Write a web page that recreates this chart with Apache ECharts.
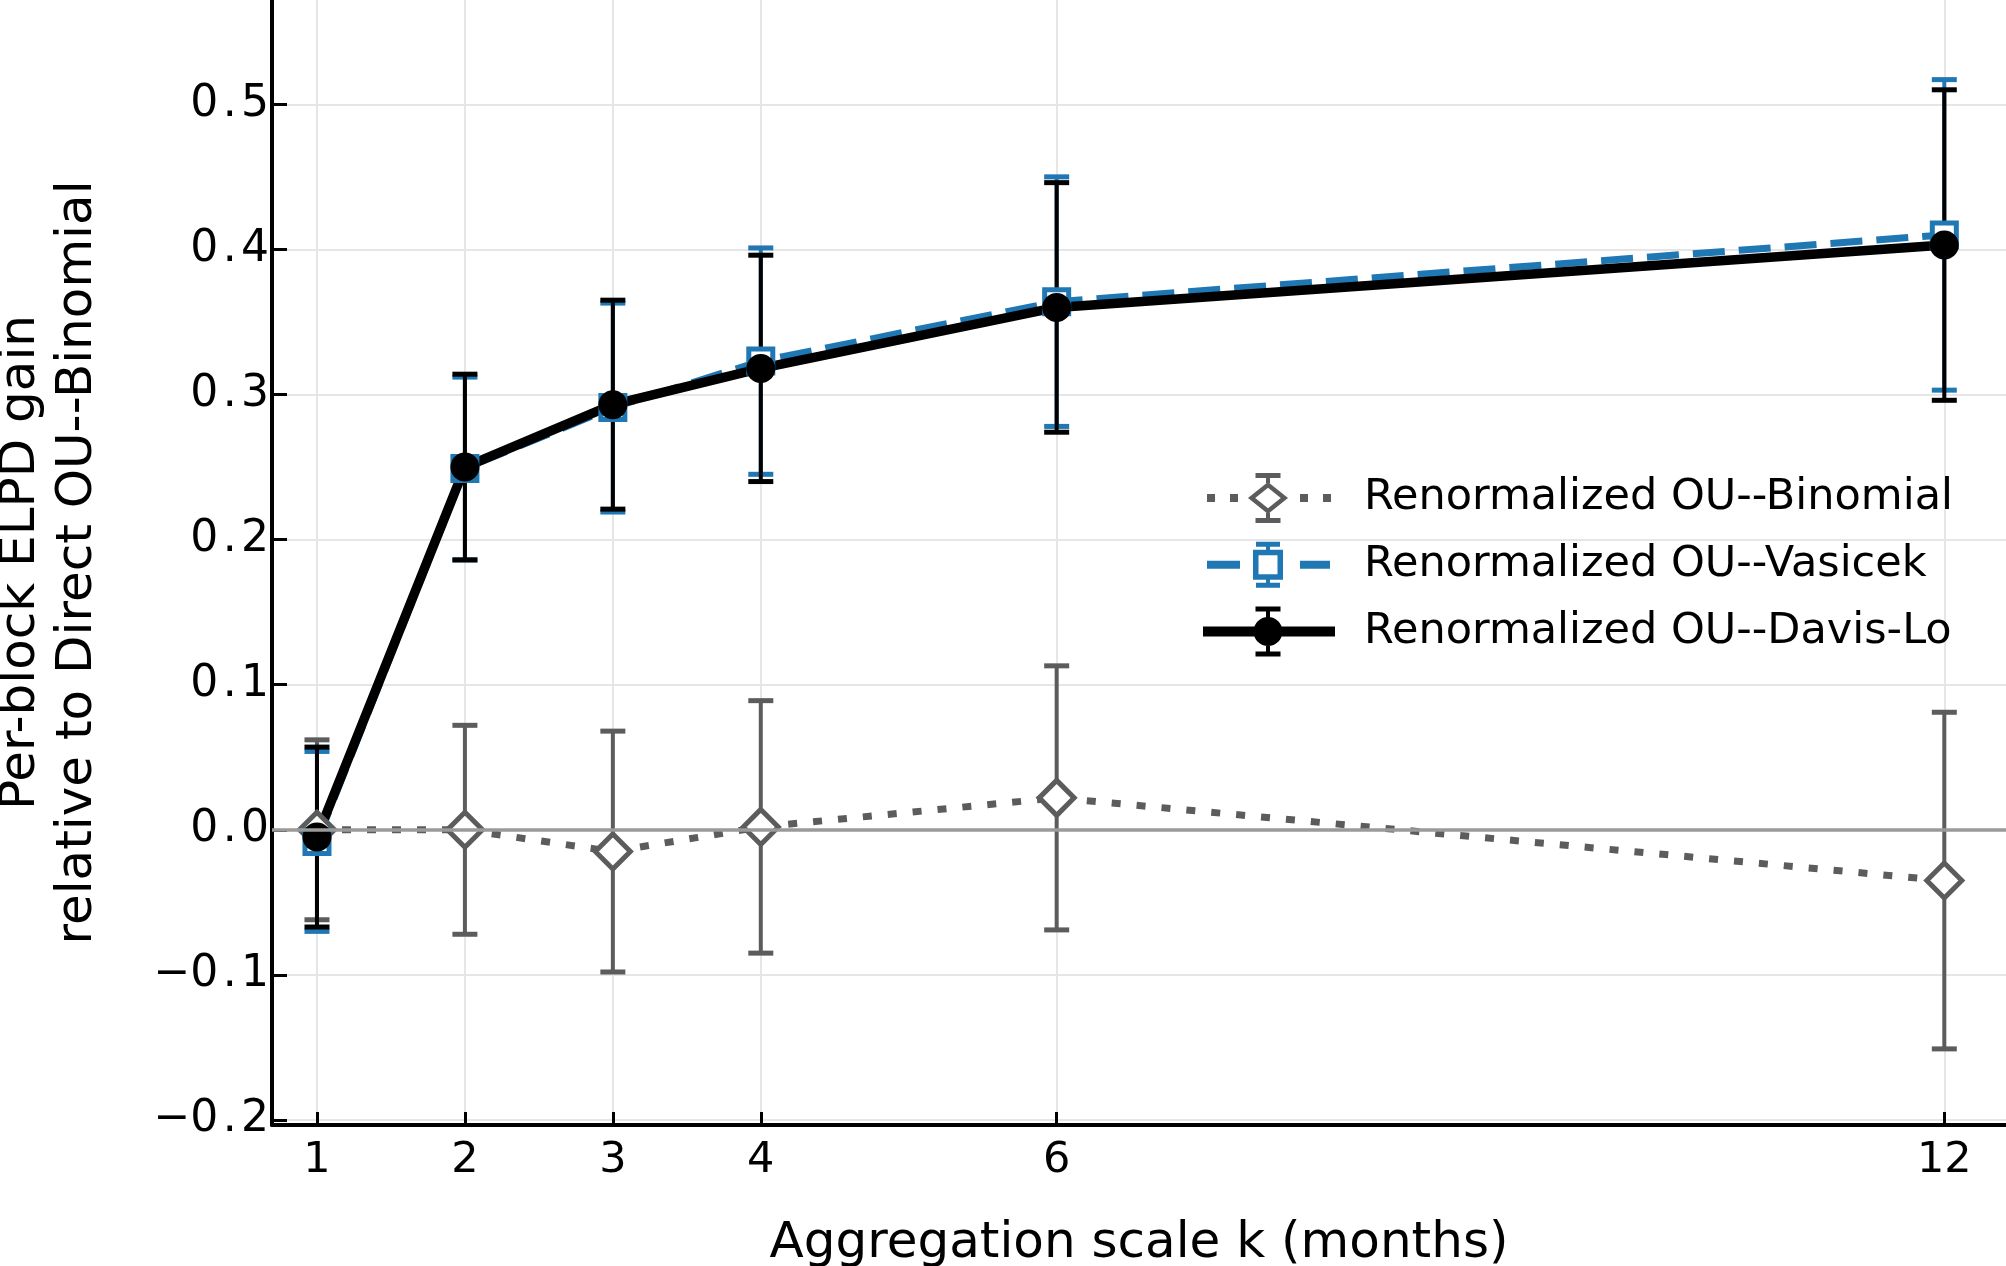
<!DOCTYPE html>
<html>
<head>
<meta charset="utf-8">
<title>Per-block ELPD gain vs aggregation scale</title>
<script src="https://cdn.jsdelivr.net/npm/echarts@6/dist/echarts.min.js"></script>
<style>
  html, body { margin: 0; padding: 0; background: #ffffff; }
  #chart { width: 2006px; height: 1266px; }
</style>
</head>
<body>
<div id="chart"></div>
<script>
// Aggregation scales (months) and axis ticks
const kValues = [1, 2, 3, 4, 6, 12];
const xTicks = [1, 2, 3, 4, 6, 12];
const yTicks = [-0.2, -0.1, 0.0, 0.1, 0.2, 0.3, 0.4, 0.5];

// Per-block ELPD gain (mean) and error bar half-widths
const binomialMean = [0.000, 0.000, -0.015, 0.002, 0.022, -0.035];
const binomialErr = [0.062, 0.072, 0.083, 0.087, 0.091, 0.116];
const vasicekMean = [-0.008, 0.249, 0.291, 0.323, 0.364, 0.410];
const vasicekErr = [0.062, 0.063, 0.072, 0.078, 0.086, 0.107];
const davisMean = [-0.005, 0.250, 0.293, 0.318, 0.360, 0.403];
const davisErr = [0.062, 0.064, 0.072, 0.078, 0.086, 0.107];

const NAME_BINOMIAL = "Renormalized OU--Binomial";
const NAME_VASICEK = "Renormalized OU--Vasicek";
const NAME_DAVIS = "Renormalized OU--Davis-Lo";

const GRAY = "#5c5c5c";
const BLUE = "#1f77b4";
const BLACK = "#000000";
const FONT = "DejaVu Sans";

// Legend icons: line + marker + error bar, drawn in a 132x50 box
const ICON_BINOMIAL =
  "path://M0 0M132 50M4 21h8v8h-8zM27 21h8v8h-8zM97 21h8v8h-8zM120 21h8v8h-8z" +
  "M65 9L85 25L65 41L45 25zM65 14.8L52.2 25L65 35.2L77.8 25z" +
  "M63 4h4v6h-4zM63 40h4v6h-4zM52.5 0h25v5h-25zM52.5 45h25v5h-25z";
const ICON_VASICEK =
  "path://M0 0M132 50M4 21h33v8h-33zM97 21h30v8h-30z" +
  "M50 10h30v30h-30zM55.5 15.5v19h19v-19z" +
  "M63 4h4v6h-4zM63 40h4v6h-4zM53 2h24v5h-24zM53 43h24v5h-24z";
const ICON_DAVIS =
  "path://M0 0M132 50M0 20h132v10h-132z" +
  "M50.5 25A14.5 14.5 0 1 1 79.5 25A14.5 14.5 0 1 1 50.5 25z" +
  "M63 3h4v44h-4zM52.5 0h25v5h-25zM52.5 45h25v5h-25z";

function points(means) {
  return kValues.map((k, i) => [k, means[i]]);
}

function bars(means, errs) {
  return kValues.map((k, i) => [k, means[i] - errs[i], means[i] + errs[i]]);
}

function errorBarRenderer(color) {
  return function (params, api) {
    const x = api.value(0);
    const lo = api.coord([x, api.value(1)]);
    const hi = api.coord([x, api.value(2)]);
    const half = 12.5;
    return {
      type: "group",
      children: [
        {
          type: "line",
          shape: { x1: lo[0], y1: lo[1], x2: hi[0], y2: hi[1] },
          style: { stroke: color, lineWidth: 4 },
        },
        {
          type: "line",
          shape: { x1: hi[0] - half, y1: hi[1], x2: hi[0] + half, y2: hi[1] },
          style: { stroke: color, lineWidth: 5 },
        },
        {
          type: "line",
          shape: { x1: lo[0] - half, y1: lo[1], x2: lo[0] + half, y2: lo[1] },
          style: { stroke: color, lineWidth: 5 },
        },
      ],
    };
  };
}

function errorSeries(name, means, errs, color) {
  return {
    name,
    type: "custom",
    data: bars(means, errs),
    encode: { x: 0, y: [1, 2] },
    renderItem: errorBarRenderer(color),
    silent: true,
    clip: false,
  };
}

// y tick labels in the source are drawn a little wide; hair spaces mimic that
function formatY(v) {
  const s = Math.abs(v).toFixed(1).split("").join("\u200a");
  return v < -1e-9 ? "\u2212" + s : s;
}

const chart = echarts.init(document.getElementById("chart"));

chart.setOption({
  animation: false,
  backgroundColor: "#ffffff",
  grid: { left: 272, right: 0, top: 0, bottom: 141, containLabel: false, outerBoundsMode: "none" },
  legend: {
    orient: "vertical",
    left: 1203,
    top: 473,
    padding: 0,
    itemGap: 16.7,
    itemWidth: 132,
    itemHeight: 50,
    symbolKeepAspect: false,
    selectedMode: false,
    textStyle: { fontFamily: FONT, fontSize: 43, color: "#000", padding: [0, 0, 0, 24] },
    data: [
      { name: NAME_BINOMIAL, icon: ICON_BINOMIAL, itemStyle: { color: GRAY, borderWidth: 0 } },
      { name: NAME_VASICEK, icon: ICON_VASICEK, itemStyle: { color: BLUE, borderWidth: 0 } },
      { name: NAME_DAVIS, icon: ICON_DAVIS, itemStyle: { color: BLACK, borderWidth: 0 } },
    ],
  },
  xAxis: {
    type: "value",
    min: 0.696,
    max: 12.417,
    name: "Aggregation scale k (months)",
    nameLocation: "middle",
    nameGap: 94,
    nameTextStyle: { fontFamily: FONT, fontSize: 50, color: "#000" },
    axisLine: { onZero: false, lineStyle: { color: "#000", width: 4 } },
    axisTick: { inside: true, length: 13, customValues: xTicks, lineStyle: { color: "#000", width: 3 } },
    axisLabel: { customValues: xTicks, margin: 14, fontFamily: FONT, fontSize: 43, color: "#000" },
    splitLine: { show: true, lineStyle: { color: "#e6e6e6", width: 2 } },
  },
  yAxis: {
    type: "value",
    min: -0.20345,
    max: 0.57188,
    name: "Per-block ELPD gain\nrelative to Direct OU--Binomial",
    nameLocation: "middle",
    nameGap: 165,
    nameTextStyle: { fontFamily: FONT, fontSize: 50, lineHeight: 57, color: "#000" },
    axisLine: { onZero: false, lineStyle: { color: "#000", width: 4 } },
    axisTick: { inside: true, length: 15, customValues: yTicks, lineStyle: { color: "#000", width: 3 } },
    axisLabel: { customValues: yTicks, margin: 3, fontFamily: FONT, fontSize: 44, color: "#000", formatter: formatY },
    splitLine: { show: true, lineStyle: { color: "#e6e6e6", width: 2 } },
  },
  series: [
    {
      name: "zero",
      type: "line",
      data: [],
      silent: true,
      markLine: {
        silent: true,
        symbol: "none",
        label: { show: false },
        lineStyle: { color: "#9a9a9a", width: 3.5, type: "solid" },
        emphasis: { disabled: true },
        data: [{ yAxis: 0 }],
      },
    },
    errorSeries("binomial-err", binomialMean, binomialErr, GRAY),
    {
      name: NAME_BINOMIAL,
      type: "line",
      data: points(binomialMean),
      symbol: "diamond",
      symbolSize: 35,
      showAllSymbol: true,
      itemStyle: { color: "#ffffff", borderColor: GRAY, borderWidth: 5 },
      lineStyle: { color: GRAY, width: 7, type: [9, 16] },
      emphasis: { disabled: true },
    },
    errorSeries("vasicek-err", vasicekMean, vasicekErr, BLUE),
    {
      name: NAME_VASICEK,
      type: "line",
      data: points(vasicekMean),
      symbol: "rect",
      symbolSize: 24,
      showAllSymbol: true,
      itemStyle: { color: "#ffffff", borderColor: BLUE, borderWidth: 5 },
      lineStyle: { color: BLUE, width: 7, type: [32, 14] },
      emphasis: { disabled: true },
    },
    errorSeries("davis-err", davisMean, davisErr, BLACK),
    {
      name: NAME_DAVIS,
      type: "line",
      data: points(davisMean),
      symbol: "circle",
      symbolSize: 29,
      showAllSymbol: true,
      itemStyle: { color: BLACK, borderWidth: 0 },
      lineStyle: { color: BLACK, width: 9.5 },
      emphasis: { disabled: true },
    },
  ],
});

window.addEventListener("resize", () => chart.resize());
</script>
</body>
</html>
